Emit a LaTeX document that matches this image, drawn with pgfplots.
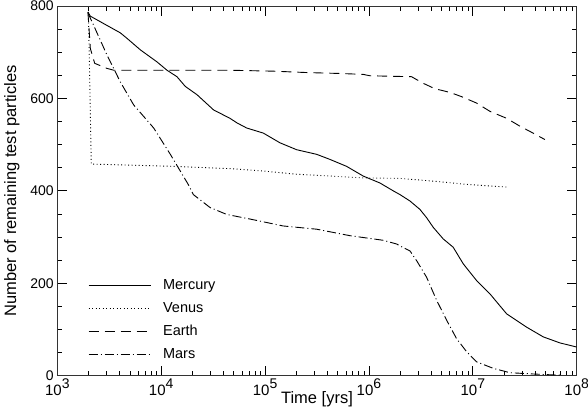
\documentclass[border=0pt]{standalone}
\usepackage{fontspec}
\setmainfont{Liberation Sans}
\usepackage{pgfplots}
\pgfplotsset{compat=1.18}
\newcommand{\E}[1]{{\fontsize{15bp}{15bp}\selectfont 10\raisebox{6.7bp}{\fontsize{14bp}{14bp}\selectfont #1}}}
\begin{document}
\begin{tikzpicture}
\useasboundingbox (-57.3bp,-40.3bp) rectangle (530.7bp,375.7bp);
\begin{axis}[
  scale only axis, width=519.4bp, height=369.7bp,
  xmode=log, log basis x=10, xmin=1e3, xmax=1e8, ymin=0, ymax=800,
  font=\fontsize{14.5bp}{16bp}\selectfont,
  /pgf/number format/assume math mode=true,
  xticklabel={\E{\pgfmathparse{int(round(\tick))}\pgfmathresult}},
  yticklabel={\fontsize{14bp}{14bp}\selectfont\pgfmathprintnumber{\tick}},
  ytick distance=200,
  minor y tick num=3,
  tickwidth=10bp, subtickwidth=5bp,
  tick style={black, line width=0.8bp},
  axis line style={line width=1bp, black!80},
  xlabel={Time [yrs]},
  ylabel={Number of remaining test particles},
  label style={font=\fontsize{16.5bp}{18bp}\selectfont},
  xlabel style={at={(axis description cs:0.5,-0.0765)}, anchor=base},
  ylabel style={at={(axis description cs:-0.0795,0.5)}, anchor=base},
  legend cell align=left,
  legend style={draw=none, fill=none, inner sep=0pt,
    at={(axis description cs:0.0591,0.261)}, anchor=north west,
    nodes={inner sep=0pt, text height=10bp, text depth=3bp},
    row sep=10bp, column sep=12bp},
  legend image code/.code={\draw[#1] (0bp,0bp) -- (62bp,0bp);},
  every axis plot/.append style={black, line width=0.9bp, line join=round},
]
\addplot[solid] coordinates {
(1972,787) (2080,778) (3006,758) (4036,742) (4688,730) (6310,705) (9120,679)
(11376,661) (14191,647) (17061,626) (22130,608) (31990,575) (45920,557)
(53700,547) (66530,536) (96160,525) (139000,504) (201400,489) (314100,479)
(421700,468) (609500,453) (881000,432) (1.276e6,417) (1.714e6,400)
(1.986e6,392) (2.483e6,378) (3.09e6,360) (3.589e6,342) (4.159e6,321)
(5.188e6,296) (6.471e6,278) (8.091e6,242) (1.086e7,206) (1.462e7,177)
(2.113e7,134) (3.296e7,105) (4.764e7,84) (6.887e7,71) (1e8,62)
};
\addlegendentry{Mercury}
\addplot[dash pattern=on 0.9bp off 2.6bp] coordinates {
(1990,787) (2060,620) (2123,458) (4365,456) (13180,453) (45920,448)
(95500,443) (199500,436) (421700,432) (881000,428) (1.986e6,427)
(4.169e6,421) (8.71e6,414) (2.188e7,408)
};
\addlegendentry{Venus}
\addplot[dash pattern=on 10bp off 6bp] coordinates {
(1972,787) (2080,708) (2290,676) (3006,665) (3500,661) (10000,661)
(45920,661) (1.2e5,659) (2.51e5,656) (5.25e5,654) (8.81e5,652)
(1.023e6,649) (2.57e6,647) (3.31e6,633) (4.315e6,621) (6.03e6,613)
(7.76e6,604) (1.086e7,590) (1.462e7,572) (2.113e7,557) (2.838e7,540)
(3.80e7,525) (4.94e7,511)
};
\addlegendentry{Earth}
\addplot[dash pattern=on 9bp off 3bp on 1bp off 3bp] coordinates {
(1972,785) (2239,758) (3006,694) (4036,636) (5433,586) (8472,536)
(12250,479) (18200,414) (20370,392) (29510,364) (42660,349) (71610,339)
(1.496e5,324) (3.141e5,317) (6.561e5,303) (1.374e6,293) (1.845e6,285)
(1.986e6,281) (2.483e6,270) (2.877e6,249) (3.589e6,213) (4.487e6,163)
(5.598e6,120) (6.982e6,80) (8.71e6,52) (1.086e7,30) (1.57e7,16)
(2.275e7,6.5) (3.80e7,3.7) (7.0e7,1)
};
\addlegendentry{Mars}
\end{axis}
\end{tikzpicture}
\end{document}
